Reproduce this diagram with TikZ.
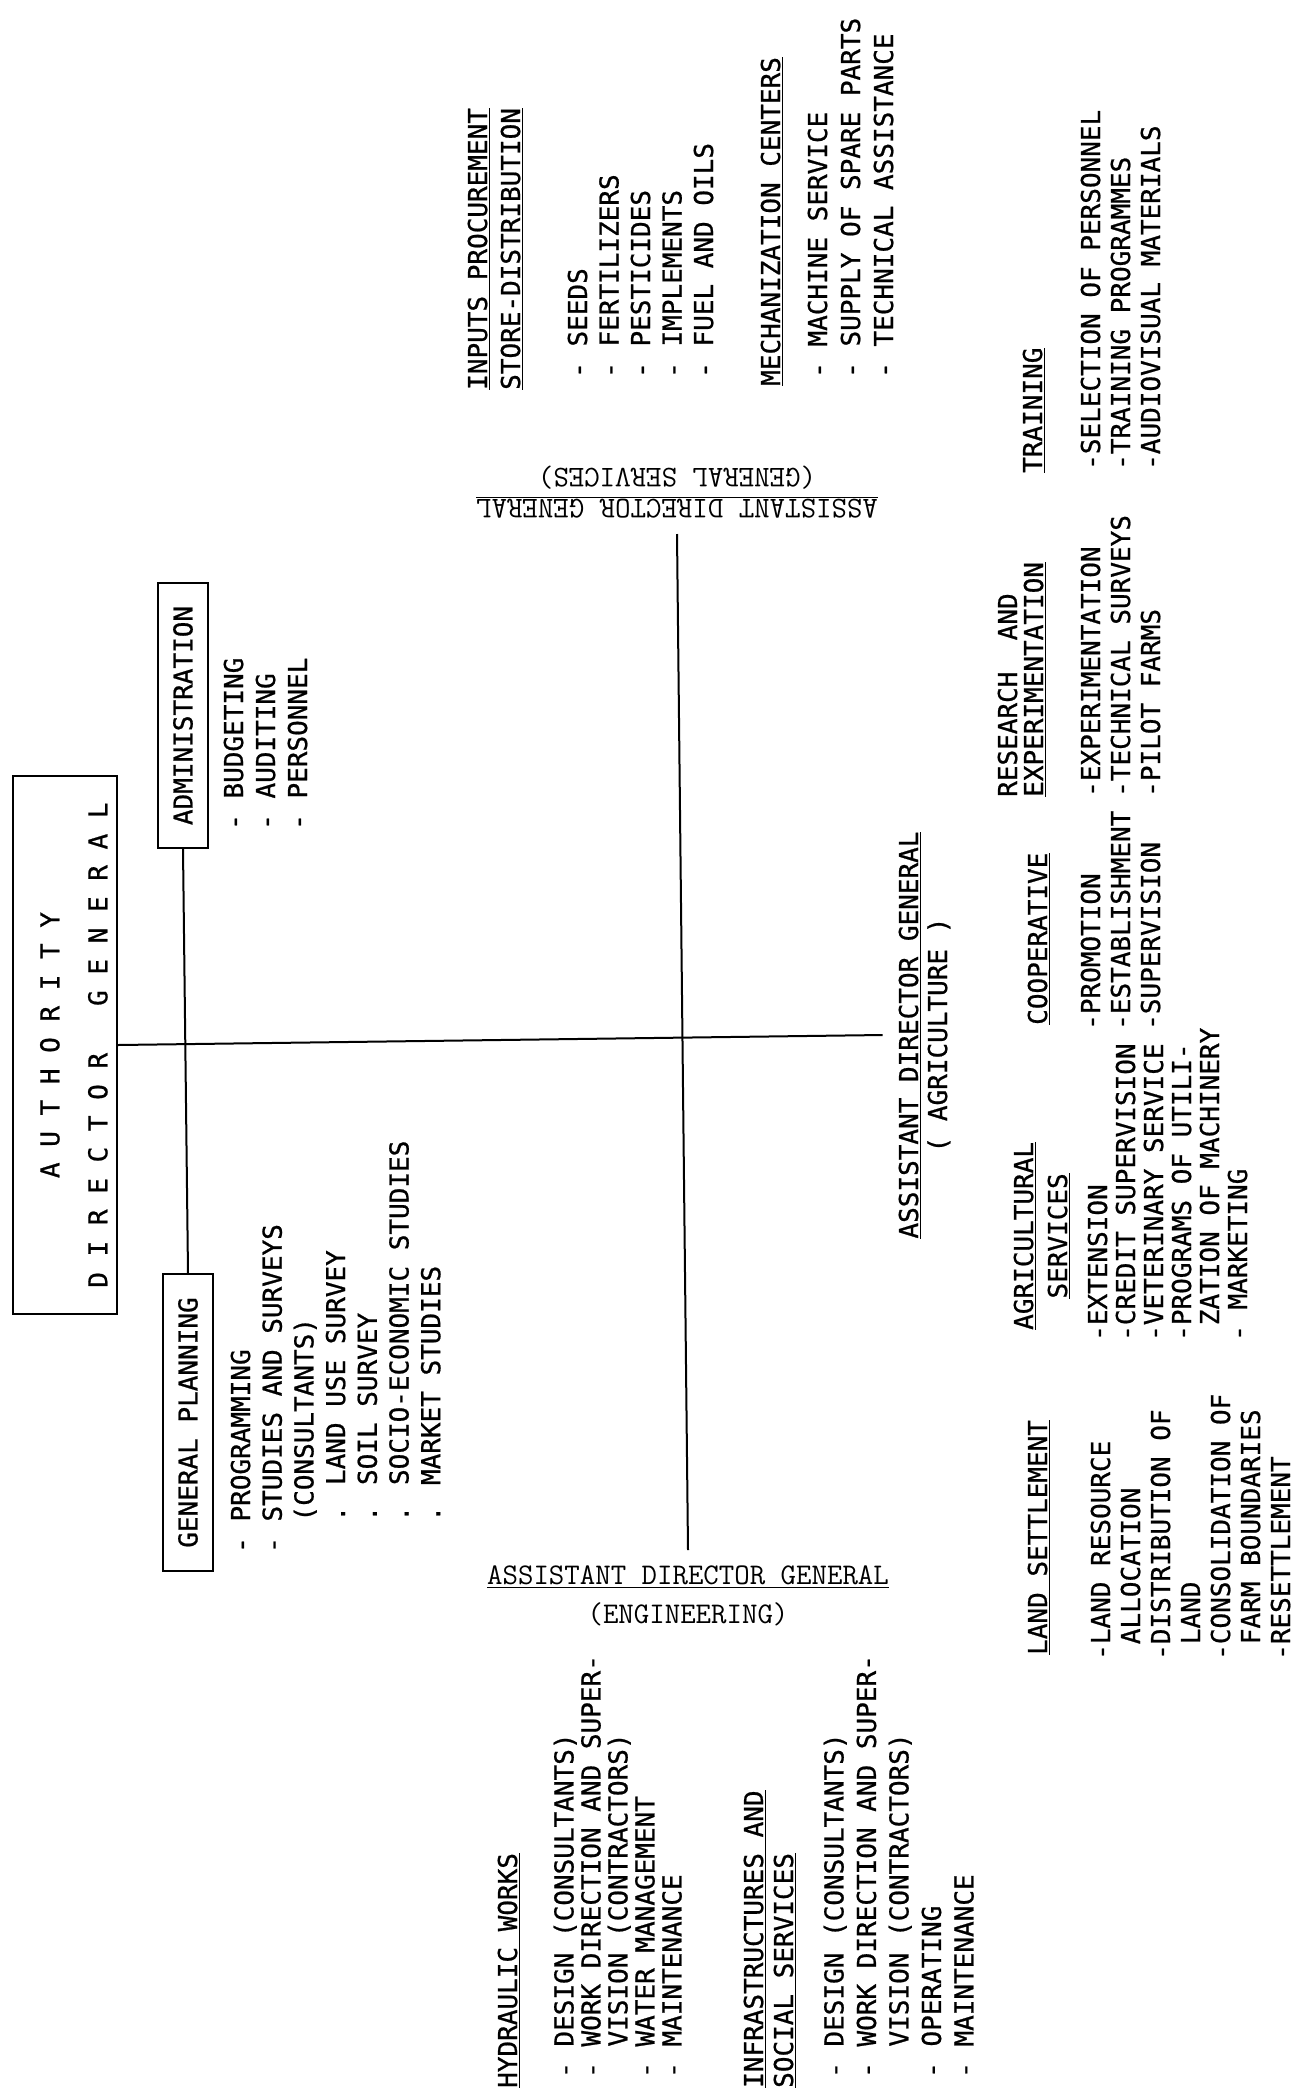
\documentclass[tikz,border=0pt]{standalone}
\usepackage{fontspec}
\newfontfamily\unitfont{DejaVu Sans Mono}[FakeBold=0.8]
\newcommand\ind{\mbox{\ \ }}

\begin{document}
\begin{tikzpicture}[
  x=1pt, y=-1pt,
  conn/.style={line width=2pt},
  unitbox/.style={draw, line width=2pt, rotate=90, inner sep=0pt, font=\unitfont\fontsize{26}{30}\selectfont},
  unitlist/.style={rotate=90, anchor=north west, inner sep=0pt, align=left, font=\unitfont\fontsize{26}{#1}\selectfont},
  adg/.style={inner sep=16pt, align=center, font=\ttfamily\addfontfeatures{FakeBold=1}\fontsize{30}{#1}\selectfont}
]
  \useasboundingbox (0,0) rectangle (1302,2090);

  % director general and staff units
  \node[unitbox, minimum width=538, minimum height=104, align=center, font=\unitfont\fontsize{26}{48}\selectfont] (dg) at (65,1045)
    {\rule{0pt}{37pt}A U T H O R I T Y\\D I R E C T O R\ \ \ G E N E R A L};
  \node[unitbox, minimum width=265, minimum height=50] (admin) at (183,715.5) {ADMINISTRATION};
  \node[unitbox, minimum width=297, minimum height=50] (plan) at (188,1422.5) {GENERAL PLANNING};
  \node[unitlist=32] (adminlist) at (223.5,830) {- BUDGETING\\- AUDITING\\- PERSONNEL};
  \node[unitlist=31.7] (planlist) at (230.5,1553) {- PROGRAMMING\\- STUDIES AND SURVEYS\\\ind(CONSULTANTS)\\\ind. LAND USE SURVEY\\\ind. SOIL SURVEY\\\ind. SOCIO-ECONOMIC STUDIES\\\ind. MARKET STUDIES};

  % assistant directors general
  \node[adg=31, rotate=180, anchor=north] (gs) at (677,534) {\underline{ASSISTANT DIRECTOR GENERAL}\\(GENERAL SERVICES)};
  \node[adg=39, anchor=north] (eng) at (688,1550) {\underline{ASSISTANT DIRECTOR GENERAL}\\(ENGINEERING)};
  \node[rotate=90, anchor=north, inner sep=16pt, align=center, font=\unitfont\fontsize{26}{29}\selectfont] (agri) at (882.5,1035)
    {\underline{ASSISTANT DIRECTOR GENERAL}\\( AGRICULTURE )};

  \draw[conn] (dg.south) -- (agri.north);
  \draw[conn] (admin.west) -- (plan.east);
  \draw[conn] (gs.north) -- (eng.north);

  % general services
  \node[unitlist=33] (inphead) at (467.5,390) {\underline{INPUTS PROCUREMENT}\\\underline{STORE-DISTRIBUTION}};
  \node[unitlist=31.5] (inplist) at (567.5,378) {- SEEDS\\- FERTILIZERS\\- PESTICIDES\\- IMPLEMENTS\\- FUEL AND OILS};
  \node[unitlist=30] (mechhead) at (760.5,386) {\underline{MECHANIZATION CENTERS}};
  \node[unitlist=33] (mechlist) at (807.5,378) {- MACHINE SERVICE\\- SUPPLY OF SPARE PARTS\\- TECHNICAL ASSISTANCE};

  % agriculture
  \node[unitlist=30] (trainhead) at (1022.5,473) {\underline{TRAINING}};
  \node[unitlist=30] (trainlist) at (1080.5,470) {-SELECTION OF PERSONNEL\\-TRAINING PROGRAMMES\\-AUDIOVISUAL MATERIALS};
  \node[unitlist=26] (reshead) at (997.5,797) {RESEARCH\ \ AND\\\underline{EXPERIMENTATION}};
  \node[unitlist=30] (reslist) at (1080.5,797) {-EXPERIMENTATION\\-TECHNICAL SURVEYS\\-PILOT FARMS};
  \node[unitlist=30] (coophead) at (1027.5,1025) {\underline{COOPERATIVE}};
  \node[unitlist=30] (cooplist) at (1080.5,1030) {-PROMOTION\\-ESTABLISHMENT\\-SUPERVISION};
  \node[unitlist=34] (agrhead) at (1013.5,1330) {\underline{AGRICULTURAL}\\\ind\underline{SERVICES}};
  \node[unitlist=28] (agrlist) at (1087.5,1341) {-EXTENSION\\-CREDIT SUPERVISION\\-VETERINARY SERVICE\\-PROGRAMS OF UTILI-\\\mbox{\ }ZATION OF MACHINERY\\- MARKETING};
  \node[unitlist=30] (landhead) at (1027.5,1655) {\underline{LAND SETTLEMENT}};
  \node[unitlist=30] (landlist) at (1090.5,1660) {-LAND RESOURCE\\\mbox{\ }ALLOCATION\\-DISTRIBUTION OF\\\mbox{\ }LAND\\-CONSOLIDATION OF\\\mbox{\ }FARM BOUNDARIES\\-RESETTLEMENT};

  % engineering
  \node[unitlist=30] (hydhead) at (497.5,2088) {\underline{HYDRAULIC WORKS}};
  \node[unitlist=27] (hydlist) at (553.5,2078) {- DESIGN (CONSULTANTS)\\- WORK DIRECTION AND SUPER-\\\ind VISION (CONTRACTORS)\\- WATER MANAGEMENT\\- MAINTENANCE};
  \node[unitlist=30] (infhead) at (743.5,2088) {\underline{INFRASTRUCTURES AND}\\\underline{SOCIAL SERVICES}};
  \node[unitlist=32.5] (inflist) at (823.5,2078) {- DESIGN (CONSULTANTS)\\- WORK DIRECTION AND SUPER-\\\ind VISION (CONTRACTORS)\\- OPERATING\\- MAINTENANCE};
\end{tikzpicture}
\end{document}
